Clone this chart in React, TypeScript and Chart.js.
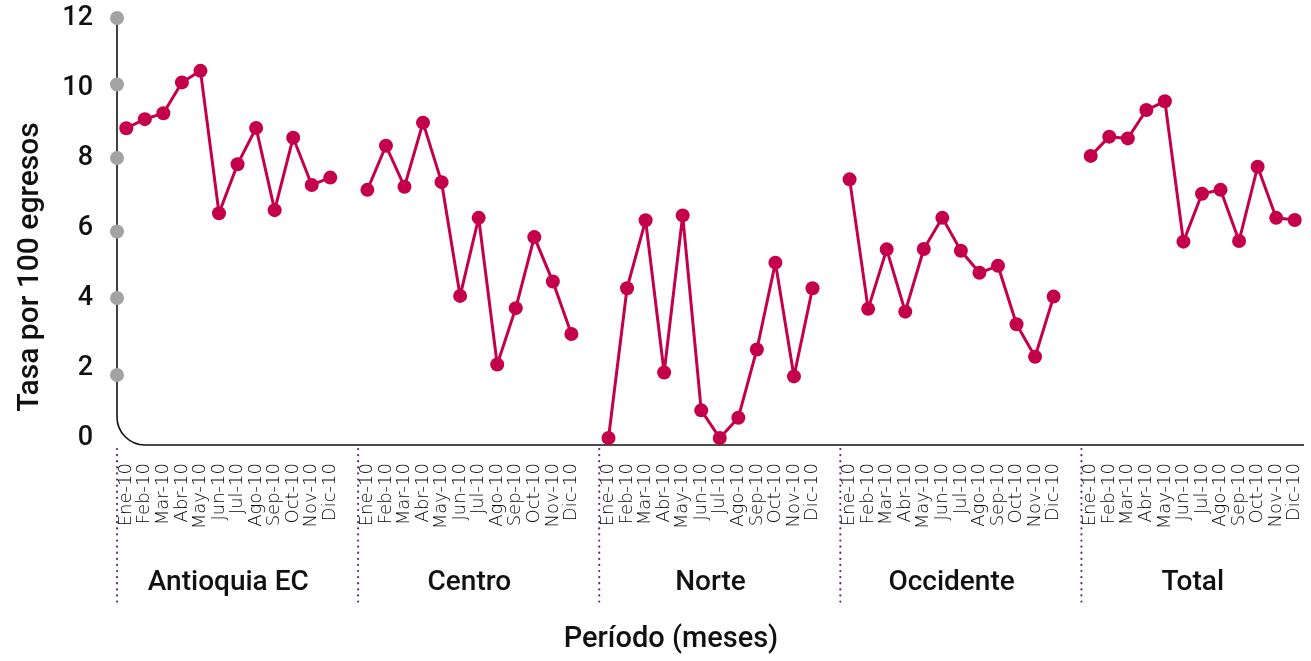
import React, { useEffect, useRef } from 'react';
import { Chart, registerables } from 'chart.js';

Chart.register(...registerables);

const months = ['Ene-10', 'Feb-10', 'Mar-10', 'Abr-10', 'May-10', 'Jun-10', 'Jul-10', 'Ago-10', 'Sep-10', 'Oct-10', 'Nov-10', 'Dic-10'];
const regions = ['Antioquia EC', 'Centro', 'Norte', 'Occidente', 'Total'];

const antioquia = [8.85, 9.11, 9.28, 10.16, 10.49, 6.42, 7.82, 8.86, 6.51, 8.58, 7.23, 7.44];
const centro = [7.09, 8.35, 7.18, 9.01, 7.31, 4.06, 6.29, 2.1, 3.71, 5.74, 4.47, 2.97];
const norte = [0, 4.28, 6.22, 1.87, 6.36, 0.79, 0, 0.58, 2.53, 5.01, 1.76, 4.28];
const occidente = [7.39, 3.69, 5.39, 3.61, 5.4, 6.29, 5.35, 4.72, 4.92, 3.25, 2.32, 4.04];
const total = [8.06, 8.61, 8.56, 9.37, 9.62, 5.61, 6.98, 7.09, 5.63, 7.75, 6.29, 6.23];

const yTickStep = 2;
const yMax = 12;
const axisDots = [12, 10.1, 8, 5.9, 4, 1.8];

const yTitle = 'Tasa por 100 egresos';
const xTitle = 'Período (meses)';

const series = [antioquia, centro, norte, occidente, total];
const groupSize = months.length + 1;

const labels: string[] = [];
const values: (number | null)[] = [];
series.forEach((s, gi) => {
  months.forEach((m, mi) => {
    labels.push(m);
    values.push(s[mi]);
  });
  if (gi < series.length - 1) {
    labels.push('');
    values.push(null);
  }
});

const LINE = '#C5004A';
const FONT = 'Roboto, "Noto Sans", sans-serif';

const decor = {
  id: 'decor',
  beforeDatasetsDraw(chart: any) {
    const { ctx, chartArea } = chart;
    const { left, right, top, bottom } = chartArea;
    const y = chart.scales.y;
    ctx.save();
    const r = 28;
    ctx.beginPath();
    ctx.moveTo(left, top);
    ctx.lineTo(left, bottom - r);
    ctx.arcTo(left, bottom, left + r, bottom, r);
    ctx.lineTo(right, bottom);
    ctx.lineWidth = 1.6;
    ctx.strokeStyle = '#111';
    ctx.stroke();
    ctx.fillStyle = '#A3A3A3';
    axisDots.forEach((v) => {
      ctx.beginPath();
      ctx.arc(left, y.getPixelForValue(v), 7, 0, Math.PI * 2);
      ctx.fill();
    });
    ctx.restore();
  },
  afterDraw(chart: any) {
    const { ctx, chartArea } = chart;
    const x = chart.scales.x;
    ctx.save();
    ctx.strokeStyle = '#5B2A86';
    ctx.lineWidth = 2.2;
    ctx.lineCap = 'round';
    ctx.setLineDash([0.1, 6]);
    regions.forEach((_, gi) => {
      const start = gi * groupSize;
      const px = gi === 0 ? chartArea.left : (x.getPixelForValue(start - 1) + x.getPixelForValue(start)) / 2;
      ctx.beginPath();
      ctx.moveTo(px, chartArea.bottom + 4);
      ctx.lineTo(px, 605);
      ctx.stroke();
    });
    ctx.setLineDash([]);
    ctx.fillStyle = '#111';
    ctx.font = `500 28px ${FONT}`;
    ctx.textAlign = 'center';
    ctx.textBaseline = 'middle';
    regions.forEach((name, gi) => {
      const start = gi * groupSize;
      const cx = (x.getPixelForValue(start) + x.getPixelForValue(start + months.length - 1)) / 2;
      ctx.fillText(name, cx, 583);
    });
    ctx.font = `500 29px ${FONT}`;
    ctx.fillText(xTitle, 671, 640);
    ctx.font = `500 30px ${FONT}`;
    ctx.translate(30, 267);
    ctx.rotate(-Math.PI / 2);
    ctx.fillText(yTitle, 0, 0);
    ctx.restore();
  },
};

export default function App() {
  const ref = useRef<HTMLCanvasElement | null>(null);
  useEffect(() => {
    if (!ref.current) return;
    const chart = new Chart(ref.current, {
      type: 'line',
      data: {
        labels,
        datasets: [
          {
            data: values,
            borderColor: LINE,
            backgroundColor: LINE,
            borderWidth: 3,
            borderJoinStyle: 'round',
            pointRadius: 7,
            pointBorderWidth: 0,
            pointBackgroundColor: LINE,
            tension: 0,
            spanGaps: false,
            clip: false as any,
          },
        ],
      },
      options: {
        animation: false,
        responsive: false,
        layout: { padding: { top: 18, right: 6, left: 0, bottom: 0 } },
        plugins: { legend: { display: false }, tooltip: { enabled: false } },
        scales: {
          x: {
            type: 'category',
            offset: true,
            grid: { display: false, drawTicks: false },
            border: { display: false },
            ticks: {
              autoSkip: false,
              maxRotation: 90,
              minRotation: 90,
              padding: 18,
              color: '#000',
              font: { family: '"DejaVu Sans", sans-serif', size: 18, weight: 200 as any },
            },
            afterFit: (s: any) => {
              s.height = 216;
              s.paddingLeft = 0;
              s.paddingRight = 0;
            },
          },
          y: {
            min: -0.2,
            max: yMax,
            grid: { display: false, drawTicks: false },
            border: { display: false },
            ticks: {
              stepSize: yTickStep,
              includeBounds: false,
              padding: 24,
              color: '#111',
              font: { family: FONT, size: 27, weight: 500 as any },
            },
            afterFit: (s: any) => {
              s.width = 117;
              s.paddingTop = 0;
              s.paddingBottom = 0;
            },
          },
        },
      },
      plugins: [decor],
    });
    return () => chart.destroy();
  }, []);
  return (
    <div style={{ position: 'fixed', left: 0, top: 0, width: 1311, height: 661, background: '#fff' }}>
      <canvas ref={ref} width={1311} height={661} style={{ display: 'block' }} />
    </div>
  );
}
